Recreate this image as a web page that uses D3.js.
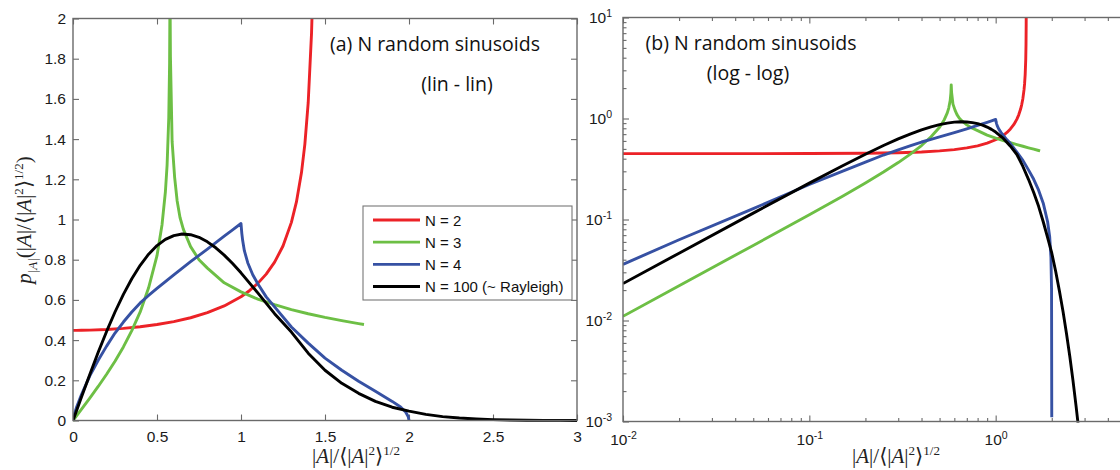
<!DOCTYPE html>
<html><head><meta charset="utf-8">
<script src="https://cdn.jsdelivr.net/npm/d3@7"></script>
<style>body{margin:0;background:#fff}svg{display:block}</style>
</head><body>
<svg id="c" width="1120" height="470"></svg>
<script>
// ---------------- data ----------------
const seriesNames = ["N = 2", "N = 3", "N = 4", "N = 100 (~ Rayleigh)"];

const xN2 = [0, 0.01, 0.02, 0.05, 0.1, 0.2, 0.3, 0.4, 0.5, 0.6, 0.7, 0.8, 0.9, 1.0, 1.05, 1.1, 1.15, 1.2, 1.25, 1.3, 1.33, 1.36, 1.38, 1.4, 1.42, 1.43, 1.44, 1.45, 1.455, 1.458, 1.459];
const yN2 = [0.4486, 0.4486, 0.4486, 0.4488, 0.4497, 0.4529, 0.4584, 0.4665, 0.4775, 0.4921, 0.5112, 0.5363, 0.5698, 0.6157, 0.6457, 0.6823, 0.7282, 0.7876, 0.8683, 0.9857, 1.0876, 1.2335, 1.374, 1.581, 1.930, 2.225, 2.720, 3.84, 5.43, 8.57, 12.1];

const xN3 = [0, 0.01, 0.02, 0.05, 0.1, 0.15, 0.2, 0.25, 0.3, 0.35, 0.4, 0.45, 0.5, 0.53, 0.55, 0.56, 0.57, 0.575, 0.5774, 0.58, 0.59, 0.605, 0.62, 0.637, 0.657, 0.7, 0.75, 0.8, 0.9, 1.0, 1.1, 1.2, 1.3, 1.4, 1.5, 1.6, 1.7, 1.732];
const yN3 = [0, 0.011, 0.0221, 0.0554, 0.1114, 0.1693, 0.230, 0.295, 0.366, 0.447, 0.54, 0.66, 0.82, 0.974, 1.138, 1.269, 1.506, 1.78, 2.15, 1.81, 1.387, 1.21, 1.092, 1.01, 0.951, 0.865, 0.80, 0.758, 0.685, 0.640, 0.604, 0.576, 0.552, 0.531, 0.513, 0.497, 0.482, 0.4775];

const xN4 = [0, 0.01, 0.02, 0.05, 0.1, 0.15, 0.2, 0.25, 0.3, 0.35, 0.4, 0.45, 0.5, 0.6, 0.7, 0.8, 0.9, 0.95, 1.0, 1.005, 1.01, 1.02, 1.04, 1.07, 1.1, 1.15, 1.2, 1.3, 1.4, 1.5, 1.6, 1.7, 1.8, 1.9, 1.95, 1.98, 1.995, 2.0];
const yN4 = [0, 0.036, 0.063, 0.128, 0.222, 0.30, 0.37, 0.435, 0.49, 0.54, 0.585, 0.622, 0.657, 0.725, 0.79, 0.853, 0.917, 0.948, 0.98, 0.93, 0.895, 0.845, 0.785, 0.725, 0.68, 0.615, 0.565, 0.465, 0.385, 0.31, 0.25, 0.195, 0.145, 0.095, 0.067, 0.042, 0.02, 0.0011];

const xN100 = [0, 0.01, 0.02, 0.05, 0.1, 0.15, 0.2, 0.25, 0.3, 0.35, 0.4, 0.45, 0.5, 0.55, 0.6, 0.65, 0.7, 0.75, 0.8, 0.85, 0.9, 0.95, 1.0, 1.1, 1.2, 1.3, 1.4, 1.5, 1.6, 1.7, 1.8, 1.9, 2.0, 2.1, 2.2, 2.3, 2.4, 2.5, 2.6, 2.7, 2.8, 2.9, 3.0];
const yN100 = [0, 0.0232, 0.0464, 0.1157, 0.2293, 0.3391, 0.4431, 0.5398, 0.6276, 0.7053, 0.7720, 0.8272, 0.8701, 0.9011, 0.9201, 0.9276, 0.9244, 0.9113, 0.8890, 0.8592, 0.8227, 0.7807, 0.7346, 0.6347, 0.5315, 0.44, 0.335, 0.25, 0.185, 0.135, 0.095, 0.066, 0.0466, 0.0306, 0.0195, 0.0122, 0.0074, 0.0044, 0.00254, 0.00143, 0.00079, 0.00042, 0.00022];

const linXTicks = [0, 0.5, 1, 1.5, 2, 2.5, 3];
const linYTicks = [0, 0.2, 0.4, 0.6, 0.8, 1, 1.2, 1.4, 1.6, 1.8, 2];
const logXTicks = [1e-2, 1e-1, 1e0, 1e1];
const logXLabelled = [1e-2, 1e-1, 1e0];
const logYTicks = [1e-3, 1e-2, 1e-1, 1e0, 1e1];
const titleA = ["(a) N random sinusoids", "(lin - lin)"];
const titleB = ["(b) N random sinusoids", "(log - log)"];

// ---------------- styling ----------------
const colors = ["#ec2227", "#6dbf45", "#3651a3", "#000000"];
const series = [[xN2, yN2], [xN3, yN3], [xN4, yN4], [xN100, yN100]].map((s, i) => ({
  name: seriesNames[i], color: colors[i],
  pts: s[0].map((x, j) => [x, s[1][j]])
}));

const svg = d3.select("#c");
const AX = "#6a6a6a";
const TF = "Liberation Sans, Arial, sans-serif";

const xL = d3.scaleLinear().domain([0, 3]).range([73, 577]);
const yL = d3.scaleLinear().domain([0, 2]).range([420.5, 18.5]);
const xG = d3.scaleLog().domain([1e-2, 1e1]).range([623, 1182]);
const yG = d3.scaleLog().domain([1e-3, 1e1]).range([421.5, 17.5]);

const defs = svg.append("defs");
function clip(id, x, y, w, h) {
  defs.append("clipPath").attr("id", id).append("rect").attr("x", x).attr("y", y).attr("width", w).attr("height", h);
}
clip("cl", 73, 18.5, 504, 403.5);
clip("cg", 623, 17.5, 560, 405);

function rich(sel, parts, fs) {
  let cur = 0;
  parts.forEach(([t, k]) => {
    let target = 0, size = fs;
    if (k.includes("sub")) { target = 0.28 * fs; size = 0.62 * fs; }
    if (k.includes("sup")) { target = -0.36 * fs; size = 0.62 * fs; }
    const ts = sel.append("tspan").text(t).attr("dy", target - cur).attr("font-size", size);
    if (k.includes("i")) ts.attr("font-style", "italic");
    cur = target;
  });
}

function styleAxis(g) {
  g.select(".domain").remove();
  g.selectAll(".tick line").attr("stroke", AX).attr("stroke-width", 1.1);
  g.selectAll(".tick text").attr("font-family", TF).attr("font-size", 15.5).attr("fill", "#1a1a1a");
}

// ---------------- panel (a): lin-lin ----------------
const fmt = d => String(d);
svg.append("g").attr("transform", "translate(0,420.5)")
  .call(d3.axisBottom(xL).tickValues(linXTicks).tickFormat(fmt).tickSize(-6).tickSizeOuter(0).tickPadding(10)).call(styleAxis);
svg.append("g").attr("transform", "translate(0,18.5)")
  .call(d3.axisTop(xL).tickValues(linXTicks).tickFormat("").tickSize(-6).tickSizeOuter(0)).call(styleAxis);
svg.append("g").attr("transform", "translate(73,0)")
  .call(d3.axisLeft(yL).tickValues(linYTicks).tickFormat(fmt).tickSize(-6).tickSizeOuter(0).tickPadding(7)).call(styleAxis);
svg.append("g").attr("transform", "translate(577,0)")
  .call(d3.axisRight(yL).tickValues(linYTicks).tickFormat("").tickSize(-6).tickSizeOuter(0)).call(styleAxis);

const lineL = d3.line().x(d => xL(d[0])).y(d => yL(d[1]));
const gL = svg.append("g").attr("clip-path", "url(#cl)");
series.forEach(s => gL.append("path").attr("d", lineL(s.pts)).attr("fill", "none")
  .attr("stroke", s.color).attr("stroke-width", 2.9).attr("stroke-linejoin", "round"));

svg.append("rect").attr("x", 73).attr("y", 18.5).attr("width", 504).attr("height", 402)
  .attr("fill", "none").attr("stroke", AX).attr("stroke-width", 1.4);

// titles
const TT = "Open Sans, Lato, sans-serif";
svg.append("text").attr("x", 435).attr("y", 51).attr("text-anchor", "middle")
  .attr("font-family", TT).attr("font-size", 19.5).attr("fill", "#111").text(titleA[0]);
svg.append("text").attr("x", 457).attr("y", 91).attr("text-anchor", "middle")
  .attr("font-family", TT).attr("font-size", 19.5).attr("fill", "#111").text(titleA[1]);

// legend
const lg = svg.append("g");
lg.append("rect").attr("x", 363).attr("y", 206).attr("width", 209).attr("height", 94)
  .attr("fill", "#fff").attr("stroke", "#777").attr("stroke-width", 1.1);
const legY = d3.scalePoint().domain(seriesNames).range([220, 286.5]);
series.forEach(s => {
  lg.append("line").attr("x1", 373).attr("x2", 420).attr("y1", legY(s.name)).attr("y2", legY(s.name))
    .attr("stroke", s.color).attr("stroke-width", 2.9);
  lg.append("text").attr("x", 425).attr("y", legY(s.name) + 5.5).attr("font-family", TF)
    .attr("font-size", 15).attr("fill", "#111").text(s.name);
});

// ---------------- panel (b): log-log ----------------
const majX = logXTicks, majY = logYTicks;
const minX = xG.ticks().filter(v => !majX.some(m => Math.abs(m - v) / m < 1e-9));
const minY = yG.ticks().filter(v => !majY.some(m => Math.abs(m - v) / m < 1e-9));

function supLabels(g) {
  g.selectAll(".tick text").each(function (d) {
    const t = d3.select(this); t.text(null);
    t.append("tspan").text("10");
    t.append("tspan").attr("dy", "-0.55em").attr("font-size", "0.68em").text(Math.round(Math.log10(d)));
  });
}
svg.append("g").attr("transform", "translate(0,421.5)")
  .call(d3.axisBottom(xG).tickValues(logXLabelled).tickSize(-6).tickSizeOuter(0).tickPadding(12)).call(styleAxis).call(supLabels);
svg.append("g").attr("transform", "translate(0,421.5)")
  .call(d3.axisBottom(xG).tickValues(majX.filter(v => !logXLabelled.includes(v))).tickFormat("").tickSize(-6).tickSizeOuter(0)).call(styleAxis);
svg.append("g").attr("transform", "translate(0,421.5)")
  .call(d3.axisBottom(xG).tickValues(minX).tickFormat("").tickSize(-3.5).tickSizeOuter(0)).call(styleAxis);
svg.append("g").attr("transform", "translate(0,17.5)")
  .call(d3.axisTop(xG).tickValues(majX).tickFormat("").tickSize(-6).tickSizeOuter(0)).call(styleAxis);
svg.append("g").attr("transform", "translate(0,17.5)")
  .call(d3.axisTop(xG).tickValues(minX).tickFormat("").tickSize(-3.5).tickSizeOuter(0)).call(styleAxis);
svg.append("g").attr("transform", "translate(623,0)")
  .call(d3.axisLeft(yG).tickValues(majY).tickSize(-6).tickSizeOuter(0).tickPadding(11)).call(styleAxis).call(supLabels);
svg.append("g").attr("transform", "translate(623,0)")
  .call(d3.axisLeft(yG).tickValues(minY).tickFormat("").tickSize(-3.5).tickSizeOuter(0)).call(styleAxis);

const lineG = d3.line().x(d => xG(d[0])).y(d => yG(d[1]));
const gG = svg.append("g").attr("clip-path", "url(#cg)");
series.forEach(s => gG.append("path").attr("d", lineG(s.pts.filter(p => p[0] > 0 && p[1] > 0)))
  .attr("fill", "none").attr("stroke", s.color).attr("stroke-width", 2.9).attr("stroke-linejoin", "round"));

svg.append("rect").attr("x", 623).attr("y", 17.5).attr("width", 559).attr("height", 404)
  .attr("fill", "none").attr("stroke", AX).attr("stroke-width", 1.4);

svg.append("text").attr("x", 751).attr("y", 50).attr("text-anchor", "middle")
  .attr("font-family", TT).attr("font-size", 19.5).attr("fill", "#111").text(titleB[0]);
svg.append("text").attr("x", 748).attr("y", 80).attr("text-anchor", "middle")
  .attr("font-family", TT).attr("font-size", 19.5).attr("fill", "#111").text(titleB[1]);

// ---------------- axis labels (math) ----------------
const MF = "Liberation Serif, DejaVu Serif, serif";
const xlabParts = [["|", ""], ["A", "i"], ["|/⟨|", ""], ["A", "i"], ["|", ""], ["2", "sup"], ["⟩", ""], ["1/2", "sup"]];
[356, 896].forEach(cx => {
  const t = svg.append("text").attr("x", cx).attr("y", 463).attr("text-anchor", "middle")
    .attr("font-family", MF).attr("font-size", 21).attr("fill", "#222");
  rich(t, xlabParts, 21);
});
const yt = svg.append("text").attr("transform", "translate(31,220) rotate(-90)").attr("text-anchor", "middle")
  .attr("font-family", MF).attr("font-size", 21).attr("fill", "#222");
rich(yt, [["p", "i"], ["|A|", "isub"], ["(|", ""], ["A", "i"], ["|/⟨|", ""], ["A", "i"], ["|", ""], ["2", "sup"], ["⟩", ""], ["1/2", "sup"], [")", ""]], 21);
</script>
</body></html>
